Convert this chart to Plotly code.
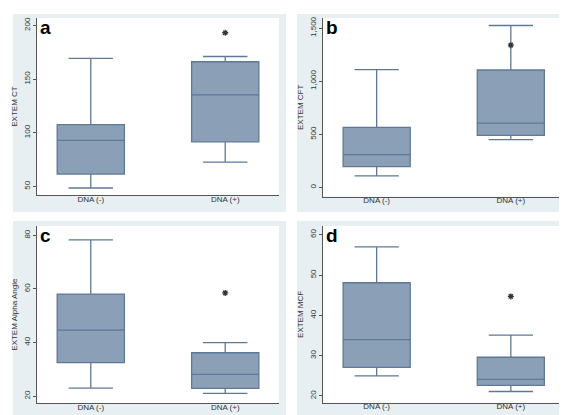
import plotly.graph_objects as go

categories = ["DNA (-)", "DNA (+)"]
panel_letters = ["a", "b", "c", "d"]
y_titles = ["EXTEM CT", "EXTEM CFT", "EXTEM Alpha Angle", "EXTEM MCF"]

# box statistics per panel: [DNA(-), DNA(+)]
lower_a = [48.5, 72.6]
q1_a = [61.5, 91.6]
median_a = [92.9, 135.4]
q3_a = [107.5, 166.2]
upper_a = [169.3, 171.1]
star_a = 193.2

lower_b = [109, 450]
q1_b = [197, 490]
median_b = [309, 606]
q3_b = [565, 1106]
upper_b = [1109, 1525]
star_b = 1340

lower_c = [23.0, 21.0]
q1_c = [32.5, 22.9]
median_c = [44.6, 28.1]
q3_c = [58.1, 36.2]
upper_c = [78.3, 40.0]
star_c = 58.5

lower_d = [25.0, 21.1]
q1_d = [27.1, 22.6]
median_d = [34.0, 24.1]
q3_d = [48.1, 29.6]
upper_d = [57.0, 35.1]
star_d = 44.7

y_ticks = [[50, 100, 150, 200], [0, 500, 1000, 1500], [20, 40, 60, 80], [20, 30, 40, 50, 60]]
y_ranges = [[41.9, 207.0], [-86, 1596], [17.3, 83.5], [18.3, 62.2]]

panels = [
    (lower_a, q1_a, median_a, q3_a, upper_a, star_a),
    (lower_b, q1_b, median_b, q3_b, upper_b, star_b),
    (lower_c, q1_c, median_c, q3_c, upper_c, star_c),
    (lower_d, q1_d, median_d, q3_d, upper_d, star_d),
]

W, H = 567, 415
# plot areas in pixels (x0, x1, ytop, ybottom)
plot_px = [(29, 271, 8, 186), (315, 556.5, 8, 187.5), (29, 271, 217, 395.3), (315, 556.5, 217, 394.7)]
outer_px = [(5, 278, 4, 203), (289, 562, 4, 203), (5, 278, 212, 411), (289, 562, 212, 411)]

FILL = "#8b9fb6"
LINE = "#5f7896"
BG = "#e7eff2"
FONT = "Liberation Sans, Arial"

fig = go.Figure()
layout = dict(width=W, height=H, margin=dict(l=0, r=0, t=0, b=0),
              paper_bgcolor="white", plot_bgcolor="rgba(0,0,0,0)",
              showlegend=False, shapes=[], annotations=[])

for i, (lo, q1, med, q3, up, star) in enumerate(panels):
    xa = "x" if i == 0 else f"x{i+1}"
    ya = "y" if i == 0 else f"y{i+1}"
    fig.add_trace(go.Box(
        x=categories, lowerfence=lo, q1=q1, median=med, q3=q3, upperfence=up,
        xaxis=xa, yaxis=ya, fillcolor=FILL, line=dict(color=LINE, width=1.3),
        width=0.5, whiskerwidth=0.66, boxpoints=False, hoverinfo="skip"))
    fig.add_trace(go.Scatter(
        x=[categories[1]], y=[star], xaxis=xa, yaxis=ya, mode="markers",
        marker=dict(symbol="asterisk-open", size=5, color="#333333",
                    line=dict(color="#333333", width=1.3)),
        hoverinfo="skip"))
    x0, x1, yt, yb = plot_px[i]
    xk = "xaxis" if i == 0 else f"xaxis{i+1}"
    yk = "yaxis" if i == 0 else f"yaxis{i+1}"
    layout[xk] = dict(domain=[x0 / W, x1 / W], anchor=ya, type="category",
                      range=[-0.4, 1.4], showline=True, linecolor="#555555", linewidth=1,
                      ticks="", ticklen=0, ticklabelstandoff=-4, showgrid=False, zeroline=False,
                      tickfont=dict(family=FONT, size=8, color="#333333"))
    layout[yk] = dict(domain=[1 - yb / H, 1 - yt / H], anchor=xa, range=y_ranges[i],
                      tickvals=y_ticks[i], tickformat=",", tickangle=-90,
                      showline=True, linecolor="#555555", linewidth=1,
                      ticks="outside", ticklen=3, tickcolor="#555555",
                      showgrid=False, zeroline=False,
                      tickfont=dict(family=FONT, size=8, color="#333333"),
                      title=dict(text=y_titles[i], standoff=3,
                                 font=dict(family=FONT, size=8, color="#333333")))
    ox0, ox1, oyt, oyb = outer_px[i]
    layout["shapes"].append(dict(type="rect", xref="paper", yref="paper",
                                 x0=ox0 / W, x1=ox1 / W, y0=1 - oyb / H, y1=1 - oyt / H,
                                 fillcolor=BG, line=dict(width=0), layer="below"))
    layout["shapes"].append(dict(type="rect", xref="paper", yref="paper",
                                 x0=x0 / W, x1=x1 / W, y0=1 - yb / H, y1=1 - yt / H,
                                 fillcolor="white", line=dict(width=0), layer="below"))
    layout["annotations"].append(dict(text=f"<b>{panel_letters[i]}</b>", xref="paper", yref="paper",
                                      x=(x0 + 2) / W, y=1 - (yt + 10) / H, xanchor="left", yanchor="middle",
                                      showarrow=False, borderpad=0,
                                      font=dict(family=FONT, size=19, color="black")))

fig.update_layout(**layout)
fig.write_html("out.html")
